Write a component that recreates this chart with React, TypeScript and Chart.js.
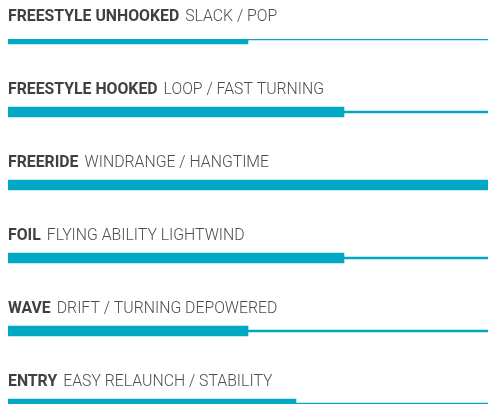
import React, { useEffect, useRef } from 'react';
import { Chart, registerables } from 'chart.js';

Chart.register(...registerables);

const boldLabels = ['FREESTYLE UNHOOKED', 'FREESTYLE HOOKED', 'FREERIDE', 'FOIL', 'WAVE', 'ENTRY'];
const lightLabels = ['SLACK / POP', 'LOOP / FAST TURNING', 'WINDRANGE / HANGTIME', 'FLYING ABILITY LIGHTWIND', 'DRIFT / TURNING DEPOWERED', 'EASY RELAUNCH / STABILITY'];
const ratings = [5, 7, 10, 7, 5, 6];
const maxRating = 10;
const track = ratings.map(() => maxRating);

const TEAL = '#00a8c3';
const SQUEEZE = 0.93;

const labelPlugin = {
  id: 'rowLabels',
  afterDatasetsDraw(chart: Chart) {
    const { ctx } = chart;
    const yScale = chart.scales.y;
    const left = chart.chartArea.left;
    ctx.save();
    ctx.textBaseline = 'alphabetic';
    ctx.textAlign = 'left';
    boldLabels.forEach((bold, i) => {
      const y = yScale.getPixelForValue(i) - 18.5;
      ctx.save();
      ctx.translate(left, y);
      ctx.scale(SQUEEZE, 1);
      ctx.font = '700 17px Roboto';
      ctx.fillStyle = '#404040';
      ctx.fillText(bold, 0, 0);
      const w = ctx.measureText(bold).width + 6 / SQUEEZE;
      ctx.font = '300 17px Roboto';
      ctx.fillStyle = '#4d4d4d';
      ctx.fillText(lightLabels[i], w, 0);
      ctx.restore();
    });
    ctx.restore();
  },
};

export default function App() {
  const canvasRef = useRef<HTMLCanvasElement | null>(null);

  useEffect(() => {
    if (!canvasRef.current) return;
    const chart = new Chart(canvasRef.current, {
      type: 'bar',
      data: {
        labels: boldLabels,
        datasets: [
          {
            label: 'rating',
            data: ratings,
            backgroundColor: TEAL,
            barThickness: 10,
            grouped: false,
            order: 1,
          },
          {
            label: 'track',
            data: track,
            backgroundColor: TEAL,
            barThickness: 2,
            grouped: false,
            order: 2,
          },
        ],
      },
      options: {
        indexAxis: 'y',
        animation: false,
        responsive: true,
        maintainAspectRatio: false,
        layout: { padding: { top: 31, bottom: 5, left: 0, right: 5 } },
        plugins: {
          legend: { display: false },
          tooltip: { enabled: false },
        },
        scales: {
          x: { display: false, min: 0, max: maxRating },
          y: { display: false, offset: false },
        },
      },
      plugins: [labelPlugin],
    });
    return () => chart.destroy();
  }, []);

  return (
    <div style={{ width: 485, height: 401, position: 'relative' }}>
      <canvas ref={canvasRef} />
    </div>
  );
}
